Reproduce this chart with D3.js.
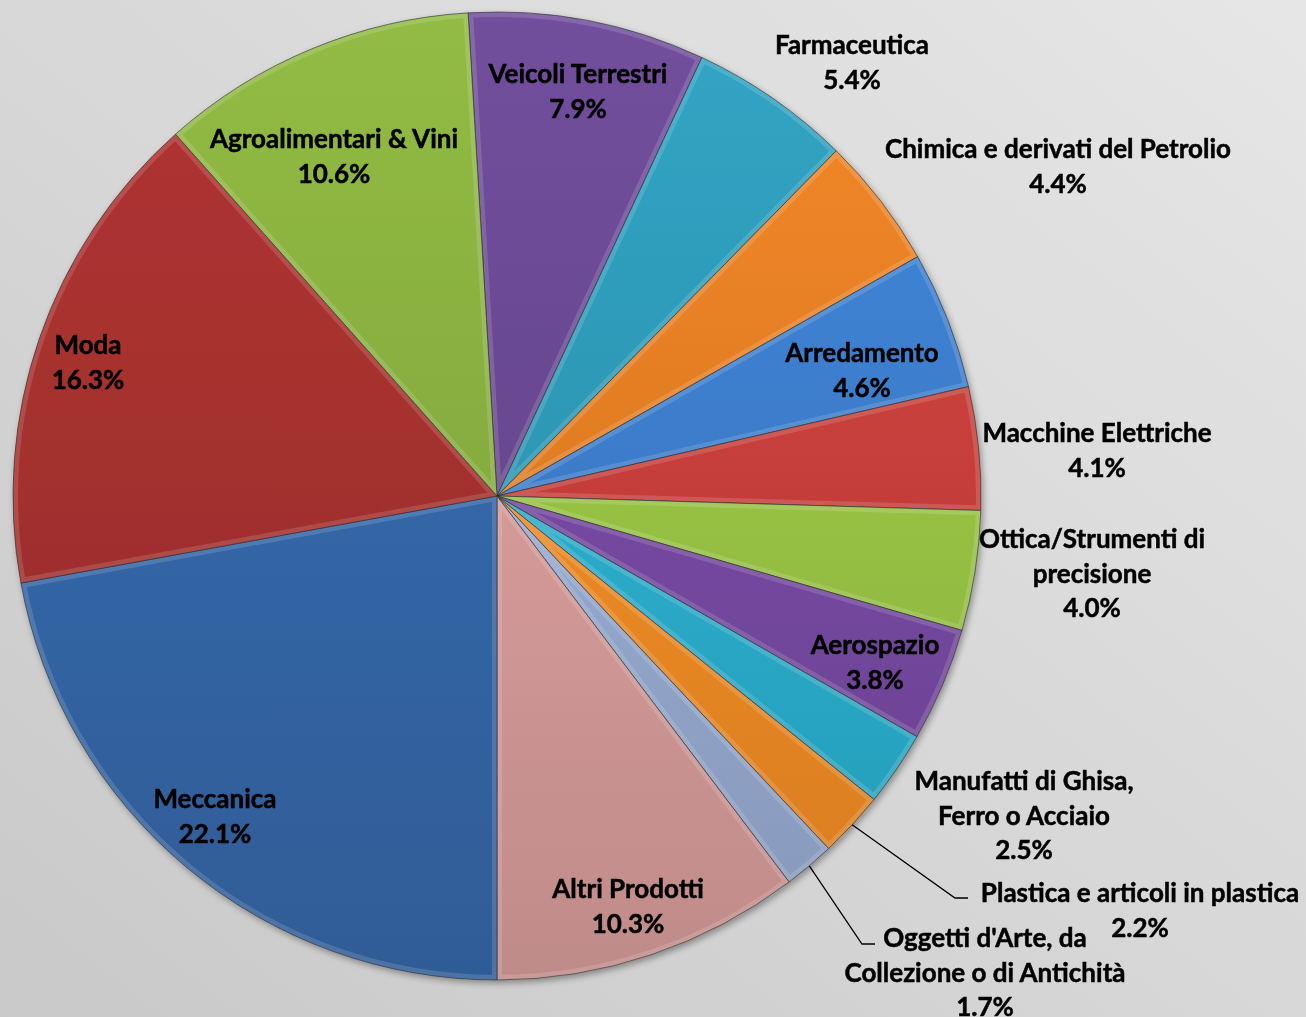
<!DOCTYPE html>
<html lang="it">
<head>
<meta charset="UTF-8">
<title>Export per settore</title>
<style>
  html, body { margin: 0; padding: 0; background: #d8d8d8; }
  svg { display: block; }
  .lbl { font-family: Lato, "Open Sans", sans-serif; font-weight: 700; font-size: 26px; fill: #000;
         stroke: #000; stroke-width: 0.5px; text-anchor: middle; }
  .leader { fill: none; stroke: #000; stroke-width: 1.3px; }
</style>
</head>
<body>
<svg id="chart" width="1306" height="1017"></svg>
<script src="https://d3js.org/d3.v7.min.js"></script>
<script>
// sectors, clockwise from the top
const categories = [
  "Veicoli Terrestri", "Farmaceutica", "Chimica e derivati del Petrolio", "Arredamento",
  "Macchine Elettriche", "Ottica/Strumenti di precisione", "Aerospazio",
  "Manufatti di Ghisa, Ferro o Acciaio", "Plastica e articoli in plastica",
  "Oggetti d'Arte, da Collezione o di Antichità", "Altri Prodotti", "Meccanica", "Moda",
  "Agroalimentari & Vini"
];
const shares = [7.9, 5.4, 4.4, 4.6, 4.1, 4.0, 3.8, 2.5, 2.2, 1.7, 10.3, 22.1, 16.3, 10.6];
// how each label is wrapped in the picture
const labelLines = [
  ["Veicoli Terrestri"], ["Farmaceutica"], ["Chimica e derivati del Petrolio"], ["Arredamento"],
  ["Macchine Elettriche"], ["Ottica/Strumenti di", "precisione"], ["Aerospazio"],
  ["Manufatti di Ghisa,", "Ferro o Acciaio"], ["Plastica e articoli in plastica"],
  ["Oggetti d'Arte, da", "Collezione o di Antichità"], ["Altri Prodotti"], ["Meccanica"], ["Moda"],
  ["Agroalimentari & Vini"]
];
const colors = [
  "#684890", "#2d97b4", "#e07c24", "#3b7cc9", "#c63e3a", "#96c244", "#7548a0",
  "#2aaccb", "#ef8a24", "#95a9cf", "#d59b99", "#3466a7", "#a3302e", "#86ac3e"
];

// layout: label anchor (first baseline, centre) and optional leader elbow
const labelAt = [
  [578, 83], [852, 54], [1058, 158], [862, 362], [1097, 442], [1092, 548], [875, 654],
  [1024, 790], [1140, 902], [985, 947], [628, 898], [215, 808], [88, 354], [334, 148]
];
const leaders = { 8: [[955, 898], [968, 898]], 9: [[862, 944], [875, 944]] };

const cx = 497, cy = 496, R = 484, lineH = 34.5;

const svg = d3.select("#chart");
const defs = svg.append("defs");

// background
const bg = defs.append("linearGradient").attr("id", "bg")
  .attr("x1", "1").attr("y1", "0").attr("x2", "0").attr("y2", "1");
bg.append("stop").attr("offset", "0").attr("stop-color", "#e6e6e6");
bg.append("stop").attr("offset", "1").attr("stop-color", "#c9c9c9");
svg.append("rect").attr("width", 1306).attr("height", 1017).attr("fill", "url(#bg)");

const shadow = defs.append("filter").attr("id", "shadow")
  .attr("x", "-10%").attr("y", "-10%").attr("width", "120%").attr("height", "120%");
shadow.append("feDropShadow").attr("dx", 2).attr("dy", 3).attr("stdDeviation", 3)
  .attr("flood-color", "#000").attr("flood-opacity", 0.35);

// one vertical gradient per colour, lighter at the top of the pie
colors.forEach((c, i) => {
  const g = defs.append("linearGradient").attr("id", "grad" + i)
    .attr("gradientUnits", "userSpaceOnUse")
    .attr("x1", 0).attr("y1", -R).attr("x2", 0).attr("y2", R);
  g.append("stop").attr("offset", "0").attr("stop-color", d3.color(c).brighter(0.25));
  g.append("stop").attr("offset", "1").attr("stop-color", d3.color(c).darker(0.3));
});

const total = d3.sum(shares);
// Meccanica begins straight down
const iMecc = categories.indexOf("Meccanica");
const before = d3.sum(shares.slice(0, iMecc));
const start = Math.PI - 2 * Math.PI * before / total;

const pie = d3.pie().sort(null).value(d => d).startAngle(start).endAngle(start + 2 * Math.PI);
const arcs = pie(shares);
const arc = d3.arc().innerRadius(0).outerRadius(R);

const g = svg.append("g").attr("transform", `translate(${cx},${cy})`);
const pieG = g.append("g").attr("filter", "url(#shadow)");

arcs.forEach((a, i) => {
  defs.append("clipPath").attr("id", "clip" + i).append("path").attr("d", arc(a));
});

const slice = pieG.selectAll("g.slice").data(arcs).enter().append("g").attr("class", "slice");
slice.append("path")
  .attr("d", arc)
  .attr("fill", (d, i) => `url(#grad${i})`);
// bevel: a soft light inner band and a dark outline
slice.append("path")
  .attr("d", arc)
  .attr("clip-path", (d, i) => `url(#clip${i})`)
  .attr("fill", "none")
  .attr("stroke", "#fff").attr("stroke-opacity", 0.14).attr("stroke-width", 10);
slice.append("path")
  .attr("d", arc)
  .attr("fill", "none")
  .attr("stroke", "#2a2a2a").attr("stroke-opacity", 0.6).attr("stroke-width", 1);

// leader lines for the thin slices
const fmt = d3.format(".1f");
Object.keys(leaders).forEach(k => {
  const a = arcs[+k];
  const mid = (a.startAngle + a.endAngle) / 2;
  const p0 = [cx + R * Math.sin(mid), cy - R * Math.cos(mid)];
  const pts = [p0].concat(leaders[k]);
  svg.append("path").attr("class", "leader").attr("d", d3.line()(pts));
});

// labels
categories.forEach((c, i) => {
  const lines = labelLines[i].concat([fmt(shares[i]) + "%"]);
  const t = svg.append("text").attr("class", "lbl")
    .attr("x", labelAt[i][0]).attr("y", labelAt[i][1]);
  lines.forEach((s, j) => {
    t.append("tspan").attr("x", labelAt[i][0]).attr("dy", j === 0 ? 0 : lineH).text(s);
  });
});
</script>
</body>
</html>
